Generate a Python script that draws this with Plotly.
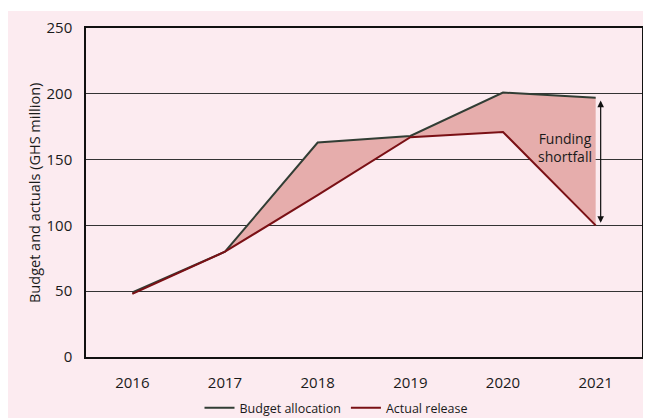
import plotly.graph_objects as go

years = [2016, 2017, 2018, 2019, 2020, 2021]
budget_allocation = [49, 80, 163, 168, 201, 197]
actual_release = [48, 80, 123, 167, 171, 100]
y_ticks = [0, 50, 100, 150, 200, 250]

# the page body adds an 8px offset; work in screen pixels and subtract it
OFF = 8
W, H = 651 - OFF, 418 - OFF
L, T = 86 - OFF, 28 - OFF
R = W - (642 - OFF)
B = H - (357 - OFF)
pw, ph = W - L - R, H - T - B

def px_x(p):
    return (p - OFF - L) / pw

def px_y(q):
    return (H - B - (q - OFF)) / ph

font = "Open Sans, Noto Sans, sans-serif"
budget_color = "#313d34"
actual_color = "#7a1015"
fill_color = "#e6adac"
bg = "#fcebf0"
txt = "#1a1a1a"

fig = go.Figure()
fig.add_trace(go.Scatter(x=years, y=budget_allocation, mode="lines",
                         line=dict(width=0, color=fill_color), showlegend=False, hoverinfo="skip"))
fig.add_trace(go.Scatter(x=years, y=actual_release, mode="lines", fill="tonexty",
                         fillcolor=fill_color, line=dict(width=0, color=fill_color),
                         showlegend=False, hoverinfo="skip"))
fig.add_trace(go.Scatter(x=years, y=budget_allocation, mode="lines", name="Budget allocation",
                         line=dict(width=2, color=budget_color)))
fig.add_trace(go.Scatter(x=years, y=actual_release, mode="lines", name="Actual release",
                         line=dict(width=2, color=actual_color)))

fig.add_annotation(x=years[-1], y=actual_release[-1] + 2, ax=years[-1], ay=budget_allocation[-1] - 1,
                   xref="x", yref="y", axref="x", ayref="y", xshift=5,
                   showarrow=True, arrowhead=2, arrowside="end+start", arrowsize=1.1,
                   arrowwidth=1.2, arrowcolor="#111111", text="")
fig.add_annotation(x=years[-1] - 0.335, y=159, xref="x", yref="y", showarrow=False,
                   text="Funding<br>shortfall", font=dict(family=font, size=14, color=txt),
                   align="center")
fig.add_annotation(x=px_x(34), y=px_y(193), xref="paper", yref="paper", showarrow=False,
                   text="Budget and actuals (GHS million)", textangle=-90,
                   xanchor="center", yanchor="middle",
                   font=dict(family=font, size=14.5, color=txt))

fig.add_shape(type="rect", xref="paper", yref="paper", layer="below",
              x0=px_x(6), x1=px_x(660), y0=px_y(430), y1=px_y(11),
              fillcolor=bg, line=dict(width=0))

fig.update_layout(
    width=W, height=H,
    margin=dict(l=L, r=R, t=T, b=B, autoexpand=False),
    paper_bgcolor="white",
    plot_bgcolor="rgba(0,0,0,0)",
    font=dict(family=font, size=15, color=txt),
    showlegend=True,
    legend=dict(orientation="h", x=px_x(336), xanchor="center", y=px_y(408), yanchor="middle",
                font=dict(family=font, size=12.5, color=txt), bgcolor="rgba(0,0,0,0)",
                traceorder="normal", itemwidth=30),
    xaxis=dict(range=[years[0] - 0.5, years[-1] + 0.5], tickvals=years, automargin=False,
               ticktext=[str(y) for y in years], showgrid=False, zeroline=False,
               showline=True, linecolor="#111111", linewidth=1.5, mirror=True,
               ticks="", tickfont=dict(size=15), ticklabelstandoff=11),
    yaxis=dict(range=[0, 250], tickvals=y_ticks, showgrid=True, gridcolor="#333333",
               gridwidth=1, zeroline=False, showline=True, linecolor="#111111", automargin=False,
               linewidth=1.5, mirror=True, ticks="", tickfont=dict(size=15),
               ticklabelstandoff=9),
)

fig.write_html("out.html")
